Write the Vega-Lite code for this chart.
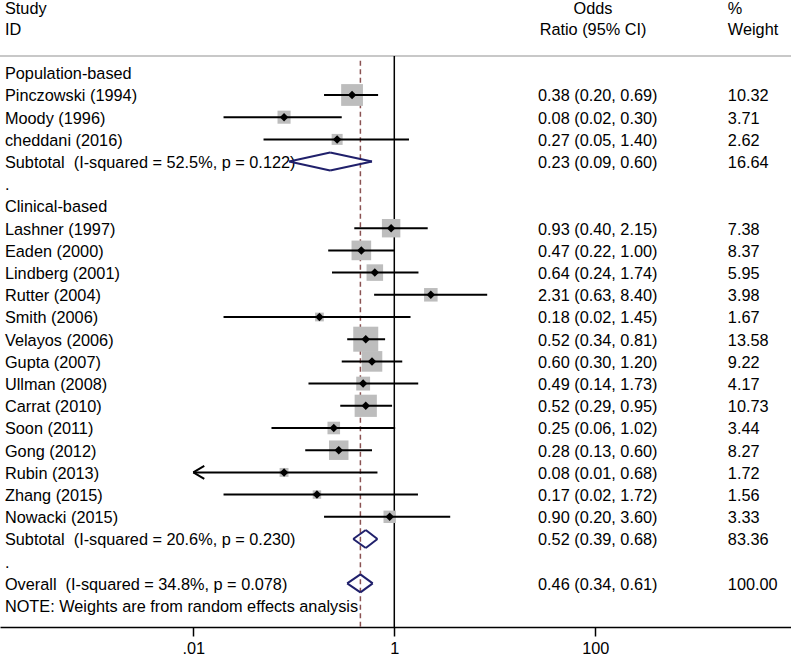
{
  "$schema": "https://vega.github.io/schema/vega-lite/v6.json",
  "width": 791,
  "height": 627,
  "autosize": {"type": "none"},
  "padding": {"left": 0, "top": 0, "right": 0, "bottom": 28},
  "background": "white",
  "config": {
    "view": {"stroke": null},
    "text": {"font": "Liberation Sans", "fontSize": 16.3, "color": "black", "baseline": "alphabetic", "dy": 6.5}
  },
  "datasets": {
    "rows": [
      {"row": 0, "label": "Population-based", "type": "text"},
      {"row": 1, "label": "Pinczowski (1994)", "or": 0.38, "lo": 0.20, "hi": 0.69, "w": 10.32, "ci": "0.38 (0.20, 0.69)", "wt": "10.32", "type": "study"},
      {"row": 2, "label": "Moody (1996)", "or": 0.08, "lo": 0.02, "hi": 0.30, "w": 3.71, "ci": "0.08 (0.02, 0.30)", "wt": "3.71", "type": "study"},
      {"row": 3, "label": "cheddani (2016)", "or": 0.27, "lo": 0.05, "hi": 1.40, "w": 2.62, "ci": "0.27 (0.05, 1.40)", "wt": "2.62", "type": "study"},
      {"row": 4, "label": "Subtotal\u00a0\u00a0(I-squared = 52.5%, p = 0.122)", "or": 0.23, "lo": 0.09, "hi": 0.60, "w": 16.64, "ci": "0.23 (0.09, 0.60)", "wt": "16.64", "type": "pooled"},
      {"row": 5, "label": ".", "type": "text"},
      {"row": 6, "label": "Clinical-based", "type": "text"},
      {"row": 7, "label": "Lashner (1997)", "or": 0.93, "lo": 0.40, "hi": 2.15, "w": 7.38, "ci": "0.93 (0.40, 2.15)", "wt": "7.38", "type": "study"},
      {"row": 8, "label": "Eaden (2000)", "or": 0.47, "lo": 0.22, "hi": 1.00, "w": 8.37, "ci": "0.47 (0.22, 1.00)", "wt": "8.37", "type": "study"},
      {"row": 9, "label": "Lindberg (2001)", "or": 0.64, "lo": 0.24, "hi": 1.74, "w": 5.95, "ci": "0.64 (0.24, 1.74)", "wt": "5.95", "type": "study"},
      {"row": 10, "label": "Rutter (2004)", "or": 2.31, "lo": 0.63, "hi": 8.40, "w": 3.98, "ci": "2.31 (0.63, 8.40)", "wt": "3.98", "type": "study"},
      {"row": 11, "label": "Smith (2006)", "or": 0.18, "lo": 0.02, "hi": 1.45, "w": 1.67, "ci": "0.18 (0.02, 1.45)", "wt": "1.67", "type": "study"},
      {"row": 12, "label": "Velayos (2006)", "or": 0.52, "lo": 0.34, "hi": 0.81, "w": 13.58, "ci": "0.52 (0.34, 0.81)", "wt": "13.58", "type": "study"},
      {"row": 13, "label": "Gupta (2007)", "or": 0.60, "lo": 0.30, "hi": 1.20, "w": 9.22, "ci": "0.60 (0.30, 1.20)", "wt": "9.22", "type": "study"},
      {"row": 14, "label": "Ullman (2008)", "or": 0.49, "lo": 0.14, "hi": 1.73, "w": 4.17, "ci": "0.49 (0.14, 1.73)", "wt": "4.17", "type": "study"},
      {"row": 15, "label": "Carrat (2010)", "or": 0.52, "lo": 0.29, "hi": 0.95, "w": 10.73, "ci": "0.52 (0.29, 0.95)", "wt": "10.73", "type": "study"},
      {"row": 16, "label": "Soon (2011)", "or": 0.25, "lo": 0.06, "hi": 1.02, "w": 3.44, "ci": "0.25 (0.06, 1.02)", "wt": "3.44", "type": "study"},
      {"row": 17, "label": "Gong (2012)", "or": 0.28, "lo": 0.13, "hi": 0.60, "w": 8.27, "ci": "0.28 (0.13, 0.60)", "wt": "8.27", "type": "study"},
      {"row": 18, "label": "Rubin (2013)", "or": 0.08, "lo": 0.01, "hi": 0.68, "w": 1.72, "ci": "0.08 (0.01, 0.68)", "wt": "1.72", "type": "study"},
      {"row": 19, "label": "Zhang (2015)", "or": 0.17, "lo": 0.02, "hi": 1.72, "w": 1.56, "ci": "0.17 (0.02, 1.72)", "wt": "1.56", "type": "study"},
      {"row": 20, "label": "Nowacki (2015)", "or": 0.90, "lo": 0.20, "hi": 3.60, "w": 3.33, "ci": "0.90 (0.20, 3.60)", "wt": "3.33", "type": "study"},
      {"row": 21, "label": "Subtotal\u00a0\u00a0(I-squared = 20.6%, p = 0.230)", "or": 0.52, "lo": 0.39, "hi": 0.68, "w": 83.36, "ci": "0.52 (0.39, 0.68)", "wt": "83.36", "type": "pooled"},
      {"row": 22, "label": ".", "type": "text"},
      {"row": 23, "label": "Overall\u00a0\u00a0(I-squared = 34.8%, p = 0.078)", "or": 0.46, "lo": 0.34, "hi": 0.61, "w": 100.0, "ci": "0.46 (0.34, 0.61)", "wt": "100.00", "type": "overall"},
      {"row": 24, "label": "NOTE: Weights are from random effects analysis", "type": "text"}
    ],
    "headLeft": [{"row": -2.96, "h": "Study"}, {"row": -2.01, "h": "ID"}],
    "headCI": [{"row": -2.96, "h": "Odds"}, {"row": -2.01, "h": "Ratio (95% CI)"}],
    "headW": [{"row": -2.96, "h": "%"}, {"row": -2.01, "h": "Weight"}],
    "one": [{}]
  },
  "data": {"name": "rows"},
  "layer": [
    {
      "data": {"name": "one"},
      "mark": {"type": "rule", "color": "#c8c8c8", "strokeWidth": 2},
      "encoding": {
        "x": {"datum": 0.0001194, "type": "quantitative", "scale": {"type": "log", "domain": [0.0001194, 8851], "nice": false},
          "axis": {"values": [0.01, 1, 100], "labelExpr": "datum.value < 0.5 ? '.01' : (datum.value < 2 ? '1' : '100')", "title": null, "grid": false, "domainColor": "black", "domainWidth": 1.5, "tickColor": "black", "tickWidth": 1.5, "tickSize": 9, "labelFont": "Liberation Sans", "labelFontSize": 16.3, "labelColor": "black", "labelPadding": 4, "labelFlush": false, "labelOverlap": false}},
        "x2": {"datum": 8851},
        "y": {"datum": -0.757, "type": "quantitative", "scale": {"domain": [-3.279, 24.964], "reverse": true, "nice": false, "zero": false}, "axis": null}
      }
    },
    {
      "data": {"name": "one"},
      "mark": {"type": "rule", "color": "black", "strokeWidth": 1.5},
      "encoding": {
        "x": {"datum": 1, "type": "quantitative"},
        "y": {"datum": -0.757, "type": "quantitative"},
        "y2": {"datum": 24.964}
      }
    },
    {
      "transform": [{"filter": "datum.type == 'overall'"}],
      "mark": {"type": "rule", "color": "#8a5252", "strokeWidth": 1.5, "strokeDash": [5, 3.5]},
      "encoding": {
        "x": {"field": "or", "type": "quantitative"},
        "y": {"datum": -0.545, "type": "quantitative"},
        "y2": {"datum": 24.964}
      }
    },
    {
      "data": {"name": "headLeft"},
      "mark": {"type": "text", "align": "left"},
      "encoding": {
        "x": {"datum": 0.0001337, "type": "quantitative"},
        "y": {"field": "row", "type": "quantitative"},
        "text": {"field": "h"}
      }
    },
    {
      "data": {"name": "headCI"},
      "mark": {"type": "text", "align": "center"},
      "encoding": {
        "x": {"datum": 94.9, "type": "quantitative"},
        "y": {"field": "row", "type": "quantitative"},
        "text": {"field": "h"}
      }
    },
    {
      "data": {"name": "headW"},
      "mark": {"type": "text", "align": "left"},
      "encoding": {
        "x": {"datum": 2084, "type": "quantitative"},
        "y": {"field": "row", "type": "quantitative"},
        "text": {"field": "h"}
      }
    },
    {
      "mark": {"type": "text", "align": "left"},
      "encoding": {
        "x": {"datum": 0.0001337, "type": "quantitative"},
        "y": {"field": "row", "type": "quantitative"},
        "text": {"field": "label"}
      }
    },
    {
      "transform": [{"filter": "isValid(datum.ci)"}],
      "mark": {"type": "text", "align": "left"},
      "encoding": {
        "x": {"datum": 26.9, "type": "quantitative"},
        "y": {"field": "row", "type": "quantitative"},
        "text": {"field": "ci"}
      }
    },
    {
      "transform": [{"filter": "isValid(datum.wt)"}],
      "mark": {"type": "text", "align": "left"},
      "encoding": {
        "x": {"datum": 2084, "type": "quantitative"},
        "y": {"field": "row", "type": "quantitative"},
        "text": {"field": "wt"}
      }
    },
    {
      "transform": [{"filter": "datum.type == 'study'"}],
      "mark": {"type": "square", "color": "#bdbdbd", "opacity": 1, "filled": true},
      "encoding": {
        "x": {"field": "or", "type": "quantitative"},
        "y": {"field": "row", "type": "quantitative"},
        "size": {"field": "w", "type": "quantitative", "scale": {"type": "linear", "domain": [0, 13.58], "range": [0, 625], "zero": true}, "legend": null}
      }
    },
    {
      "transform": [{"filter": "datum.type == 'study'"}],
      "mark": {"type": "rule", "color": "black", "strokeWidth": 2},
      "encoding": {
        "x": {"field": "lo", "type": "quantitative"},
        "x2": {"field": "hi"},
        "y": {"field": "row", "type": "quantitative"}
      }
    },
    {
      "transform": [{"filter": "datum.type == 'study'"}],
      "mark": {"type": "point", "shape": "diamond", "filled": true, "color": "black", "size": 72, "opacity": 1},
      "encoding": {
        "x": {"field": "or", "type": "quantitative"},
        "y": {"field": "row", "type": "quantitative"}
      }
    },
    {
      "transform": [{"filter": "datum.type == 'study' && datum.lo <= 0.01"}],
      "mark": {"type": "point", "shape": "M0,0L1.1,-0.65M0,0L1.1,0.65", "filled": false, "stroke": "black", "strokeWidth": 2, "size": 400, "opacity": 1},
      "encoding": {
        "x": {"field": "lo", "type": "quantitative"},
        "y": {"field": "row", "type": "quantitative"}
      }
    },
    {
      "transform": [{"filter": "datum.type == 'pooled' || datum.type == 'overall'"}],
      "mark": {"type": "rule", "color": "#20206b", "strokeWidth": 2, "y2Offset": -9},
      "encoding": {
        "x": {"field": "lo", "type": "quantitative"},
        "x2": {"field": "or"},
        "y": {"field": "row", "type": "quantitative"},
        "y2": {"field": "row"}
      }
    },
    {
      "transform": [{"filter": "datum.type == 'pooled' || datum.type == 'overall'"}],
      "mark": {"type": "rule", "color": "#20206b", "strokeWidth": 2, "yOffset": -9},
      "encoding": {
        "x": {"field": "or", "type": "quantitative"},
        "x2": {"field": "hi"},
        "y": {"field": "row", "type": "quantitative"},
        "y2": {"field": "row"}
      }
    },
    {
      "transform": [{"filter": "datum.type == 'pooled' || datum.type == 'overall'"}],
      "mark": {"type": "rule", "color": "#20206b", "strokeWidth": 2, "y2Offset": 9},
      "encoding": {
        "x": {"field": "hi", "type": "quantitative"},
        "x2": {"field": "or"},
        "y": {"field": "row", "type": "quantitative"},
        "y2": {"field": "row"}
      }
    },
    {
      "transform": [{"filter": "datum.type == 'pooled' || datum.type == 'overall'"}],
      "mark": {"type": "rule", "color": "#20206b", "strokeWidth": 2, "yOffset": 9},
      "encoding": {
        "x": {"field": "or", "type": "quantitative"},
        "x2": {"field": "lo"},
        "y": {"field": "row", "type": "quantitative"},
        "y2": {"field": "row"}
      }
    }
  ]
}
